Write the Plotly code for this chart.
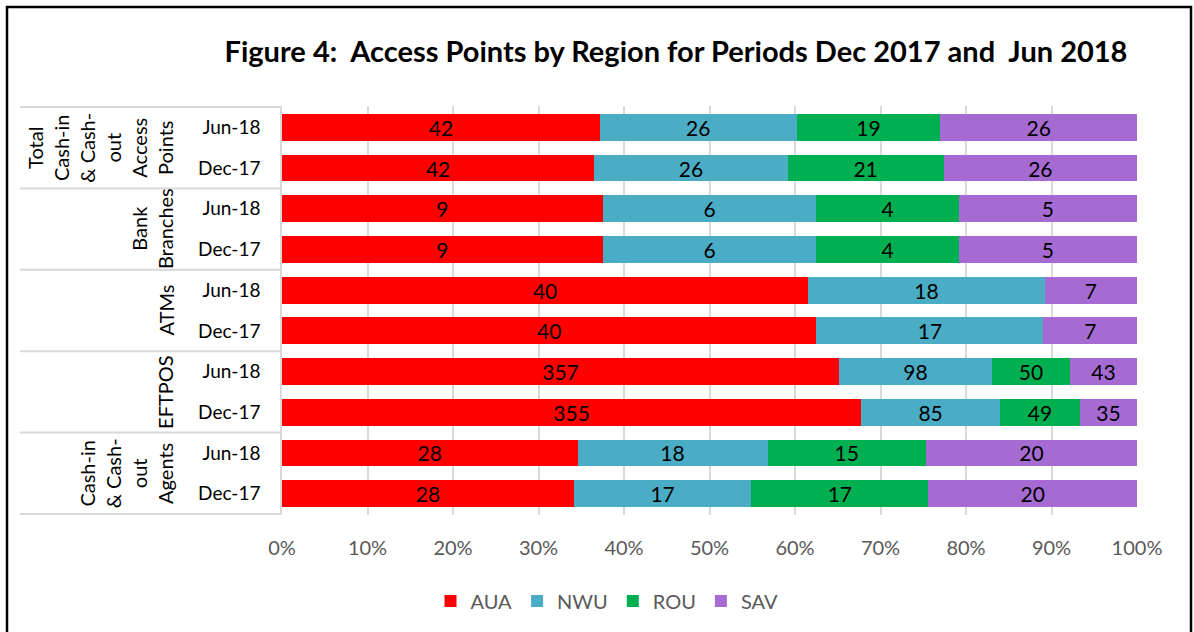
import plotly.graph_objects as go

groups = ["Total<br>Cash-in<br>& Cash-<br>out<br>Access<br>Points",
          "Bank<br>Branches", "ATMs", "EFTPOS",
          "Cash-in<br>& Cash-<br>out<br>Agents"]
periods = ["Jun-18", "Dec-17"]
regions = ["AUA", "NWU", "ROU", "SAV"]
colors = ["#FF0000", "#4BACC6", "#00B050", "#A66BD3"]

# rows top to bottom: (group, period)
AUA = [42, 42, 9, 9, 40, 40, 357, 355, 28, 28]
NWU = [26, 26, 6, 6, 18, 17, 98, 85, 18, 17]
ROU = [19, 21, 4, 4, 0, 0, 50, 49, 15, 17]
SAV = [26, 26, 5, 5, 7, 7, 43, 35, 20, 20]
series = [AUA, NWU, ROU, SAV]

row_keys = [f"g{gi}_{p}" for gi in range(len(groups)) for p in periods]
row_labels = [p for gi in range(len(groups)) for p in periods]

FONT = "Lato"
fig = go.Figure()
for name, vals, col in zip(regions, series, colors):
    fig.add_trace(go.Bar(
        y=row_keys, x=vals, name=name, orientation="h",
        marker=dict(color=col, line=dict(width=0)),
        text=[("" if not v else str(v)) for v in vals],
        textposition="inside", insidetextanchor="middle", textangle=0,
        textfont=dict(family=FONT, size=21, color="#000000"),
        constraintext="none",
    ))

# plot-area pixel geometry helpers
L, R, T, B, W, H = 282, 1137, 106, 515, 1194, 632
PW, PH = R - L, B - T
def px(p):
    return (p - L) / PW
def py(q):
    return (B - q) / PH

shapes = []
ng = len(groups)
for k in range(ng + 1):
    yv = -0.5 + 2 * k
    shapes.append(dict(type="line", xref="paper", yref="y",
                       x0=px(20), x1=0, y0=yv, y1=yv,
                       line=dict(color="#D9D9D9", width=2)))
shapes.append(dict(type="rect", xref="paper", yref="paper",
                   x0=px(7), x1=px(1191), y0=py(7), y1=py(660),
                   line=dict(color="#000000", width=2.5), fillcolor="rgba(0,0,0,0)",
                   layer="above"))

annotations = []
for gi, g in enumerate(groups):
    annotations.append(dict(
        text=g, xref="paper", yref="y", x=px(179), y=2 * gi + 0.5,
        xanchor="right", yanchor="middle", textangle=-90, showarrow=False,
        align="center", font=dict(family=FONT, size=20, color="#000000")))

fig.update_layout(
    width=W, height=H,
    margin=dict(l=L, r=W - R, t=T, b=H - B),
    barmode="stack", barnorm="percent", bargap=0.34,
    plot_bgcolor="white", paper_bgcolor="white",
    title=dict(text="<b>Figure 4:  Access Points by Region for Periods Dec 2017 and  Jun 2018</b>",
               xref="paper", x=px(676), xanchor="center",
               yref="container", y=1 - 52 / H, yanchor="middle",
               font=dict(family=FONT, size=29, color="#000000")),
    xaxis=dict(range=[0, 100.0005], tickvals=list(range(0, 101, 10)),
               ticktext=[f"{v}%" for v in range(0, 101, 10)], showgrid=True,
               gridcolor="#D9D9D9", gridwidth=1.5, zeroline=False, showline=False,
               tickfont=dict(family=FONT, size=20, color="#595959"),
               ticks="", ticklabelstandoff=19),
    yaxis=dict(categoryorder="array", categoryarray=row_keys,
               tickvals=row_keys, ticktext=row_labels, autorange="reversed",
               showline=True, linecolor="#D9D9D9", linewidth=1.5,
               tickfont=dict(family=FONT, size=19, color="#000000"),
               ticks="", ticklabelstandoff=16, showgrid=False),
    legend=dict(orientation="h", x=px(607), xanchor="center", y=py(601), yanchor="middle",
                font=dict(family=FONT, size=20, color="#595959"),
                itemwidth=30, traceorder="normal"),
    shapes=shapes, annotations=annotations, showlegend=True,
)

fig.write_html("out.html", config={"displayModeBar": False},
               post_script="document.body.style.margin='0';")
